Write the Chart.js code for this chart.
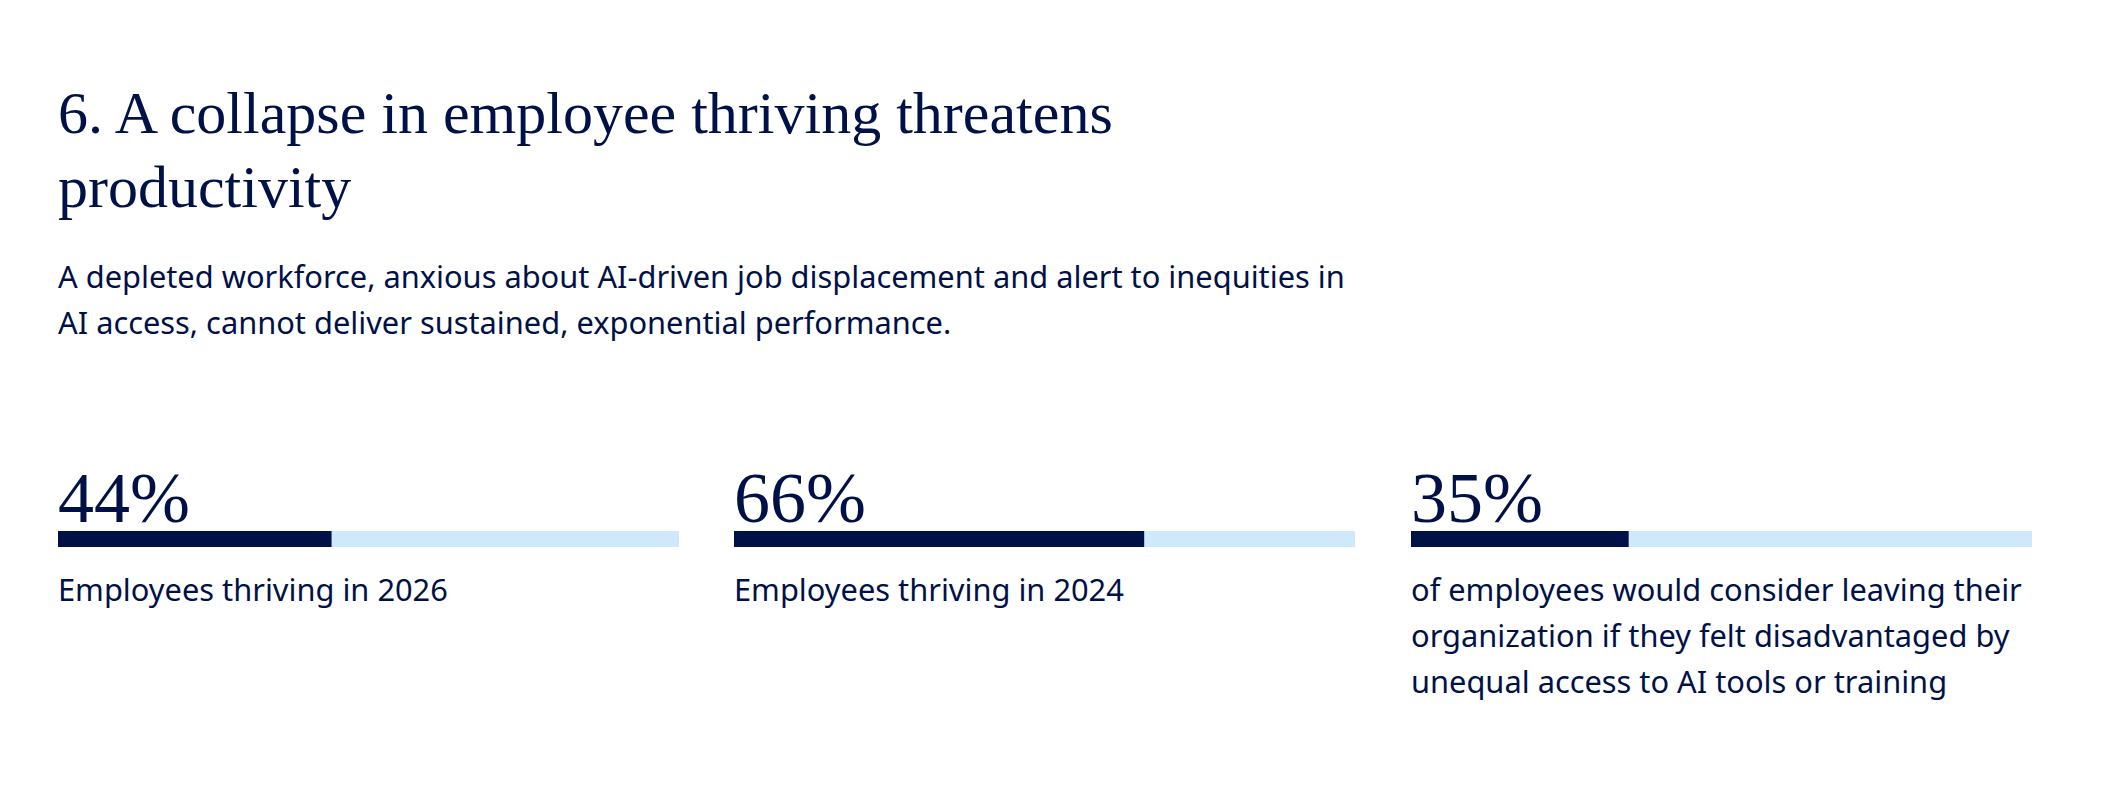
<!DOCTYPE html>
<html>
<head>
<meta charset="utf-8">
<script src="https://cdn.jsdelivr.net/npm/chart.js@4.4.1/dist/chart.umd.min.js"></script>
<style>
  body { margin: 0; background: #fff; width: 2110px; height: 788px; position: relative; overflow: hidden; color: #001147; }
  h1 { position: absolute; left: 58px; top: 76px; margin: 0; font: 400 60px/74px "Liberation Serif", serif; }
  .intro { position: absolute; left: 58px; top: 253px; margin: 0; font: 400 30.8px/46px "Noto Sans", sans-serif; }
  .stat { position: absolute; top: 462px; width: 621px; }
  .stat .num { font: 400 72px/72px "Liberation Serif", serif; height: 69px; }
  .stat canvas { display: block; }
  .stat .txt { margin-top: 19px; font: 400 30.8px/46px "Noto Sans", sans-serif; }
</style>
</head>
<body>
<h1>6. A collapse in employee thriving threatens<br>productivity</h1>
<p class="intro">A depleted workforce, anxious about AI-driven job displacement and alert to inequities in<br>AI access, cannot deliver sustained, exponential performance.</p>
<div id="stats"></div>

<script>
const values = [44, 66, 35];
const captions = [
  ["Employees thriving in 2026"],
  ["Employees thriving in 2024"],
  ["of employees would consider leaving their", "organization if they felt disadvantaged by", "unequal access to AI tools or training"]
];
const lefts = [58, 734, 1411];

const dark = "#001147";
const light = "#cfe9fc";

const box = document.getElementById("stats");
values.forEach((v, i) => {
  const div = document.createElement("div");
  div.className = "stat";
  div.style.left = lefts[i] + "px";
  div.innerHTML = `<div class="num">${v}%</div>
    <canvas id="bar${i}" width="621" height="16"></canvas>
    <div class="txt">${captions[i].join("<br>")}</div>`;
  box.appendChild(div);

  new Chart(document.getElementById("bar" + i), {
    type: "bar",
    data: {
      labels: [""],
      datasets: [
        { data: [v], backgroundColor: dark },
        { data: [100 - v], backgroundColor: light }
      ]
    },
    options: {
      indexAxis: "y",
      responsive: false,
      animation: false,
      layout: { padding: 0 },
      datasets: { bar: { barPercentage: 1, categoryPercentage: 1, borderWidth: 0 } },
      scales: {
        x: { stacked: true, min: 0, max: 100, display: false },
        y: { stacked: true, display: false }
      },
      plugins: { legend: { display: false }, tooltip: { enabled: false } }
    }
  });
});
</script>
</body>
</html>
